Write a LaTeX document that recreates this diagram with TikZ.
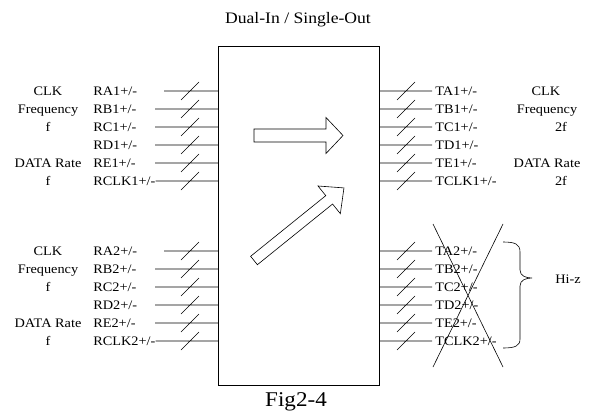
\documentclass[tikz,border=0pt]{standalone}
\usepackage{fontspec}
\setmainfont[FakeStretch=1.1]{Liberation Serif}

\begin{document}
\begin{tikzpicture}[x=1pt, y=-1pt, line width=0.6pt,
	pin/.style={font=\fontsize{13}{15}\selectfont, inner sep=0pt, text height=9pt, text depth=0.5pt},
	pinl/.style={pin, anchor=west},
	pinr/.style={pin, anchor=west, inner xsep=3pt},
	note/.style={pin}]
	\useasboundingbox (0,0) rectangle (596,415);
	\node[draw, anchor=north west, minimum width=161pt, minimum height=339pt, inner sep=0pt] (chip) at (218,46) {};
	\node[font=\fontsize{16}{18}\selectfont] (title) at (298,20) {Dual-In / Single-Out};
	\node[font=\fontsize{21}{23}\selectfont] (fig) at (296,402) {Fig2-4};
	% inputs, first port
	\node[pinl] (ra1) at (93,91) {RA1+/-};
	\node[pinl] (rb1) at (93,109) {RB1+/-};
	\node[pinl] (rc1) at (93,127) {RC1+/-};
	\node[pinl] (rd1) at (93,145) {RD1+/-};
	\node[pinl] (re1) at (93,163) {RE1+/-};
	\node[pinl] (rclk1) at (93,181) {RCLK1+/-};
	\draw (164,91) coordinate (ra1s) -- (chip.west |- ra1s) (181,100) -- (199,82);
	\draw (155,109) coordinate (rb1s) -- (chip.west |- rb1s) (181,118) -- (199,100);
	\draw (155,127) coordinate (rc1s) -- (chip.west |- rc1s) (181,136) -- (199,118);
	\draw (155,145) coordinate (rd1s) -- (chip.west |- rd1s) (181,154) -- (199,136);
	\draw (155,163) coordinate (re1s) -- (chip.west |- re1s) (181,172) -- (199,154);
	\draw (rclk1.east) -- (chip.west |- rclk1.east) (181,190) -- (199,172);
	\node[note] (clkl1) at (48,91) {CLK};
	\node[note] (frql1) at (48,109) {Frequency};
	\node[note] (fl1) at (48,127) {f};
	\node[note] (ratel1) at (48,163) {DATA Rate};
	\node[note] (rfl1) at (48,181) {f};
	% inputs, second port
	\node[pinl] (ra2) at (93,251) {RA2+/-};
	\node[pinl] (rb2) at (93,269) {RB2+/-};
	\node[pinl] (rc2) at (93,287) {RC2+/-};
	\node[pinl] (rd2) at (93,305) {RD2+/-};
	\node[pinl] (re2) at (93,323) {RE2+/-};
	\node[pinl] (rclk2) at (93,341) {RCLK2+/-};
	\draw (164,251) coordinate (ra2s) -- (chip.west |- ra2s) (181,260) -- (199,242);
	\draw (155,269) coordinate (rb2s) -- (chip.west |- rb2s) (181,278) -- (199,260);
	\draw (155,287) coordinate (rc2s) -- (chip.west |- rc2s) (181,296) -- (199,278);
	\draw (155,305) coordinate (rd2s) -- (chip.west |- rd2s) (181,314) -- (199,296);
	\draw (155,323) coordinate (re2s) -- (chip.west |- re2s) (181,332) -- (199,314);
	\draw (rclk2.east) -- (chip.west |- rclk2.east) (181,350) -- (199,332);
	\node[note] (clkl2) at (48,251) {CLK};
	\node[note] (frql2) at (48,269) {Frequency};
	\node[note] (fl2) at (48,287) {f};
	\node[note] (ratel2) at (48,323) {DATA Rate};
	\node[note] (rfl2) at (48,341) {f};
	% outputs, first port
	\node[pinr] (ta1) at (432,91) {TA1+/-};
	\node[pinr] (tb1) at (432,109) {TB1+/-};
	\node[pinr] (tc1) at (432,127) {TC1+/-};
	\node[pinr] (td1) at (432,145) {TD1+/-};
	\node[pinr] (te1) at (432,163) {TE1+/-};
	\node[pinr] (tclk1) at (432,181) {TCLK1+/-};
	\draw (chip.east |- ta1.west) -- (ta1.west) (397,100) -- (415,82);
	\draw (chip.east |- tb1.west) -- (tb1.west) (397,118) -- (415,100);
	\draw (chip.east |- tc1.west) -- (tc1.west) (397,136) -- (415,118);
	\draw (chip.east |- td1.west) -- (td1.west) (397,154) -- (415,136);
	\draw (chip.east |- te1.west) -- (te1.west) (397,172) -- (415,154);
	\draw (chip.east |- tclk1.west) -- (tclk1.west) (397,190) -- (415,172);
	\node[note] (clkr1) at (546,91) {CLK};
	\node[note] (frqr1) at (547,109) {Frequency};
	\node[note] (fr1) at (561,127) {2f};
	\node[note] (rater1) at (547,163) {DATA Rate};
	\node[note] (rfr1) at (561,181) {2f};
	% outputs, second port (hi-z)
	\node[pinr] (ta2) at (432,251) {TA2+/-};
	\node[pinr] (tb2) at (432,269) {TB2+/-};
	\node[pinr] (tc2) at (432,287) {TC2+/-};
	\node[pinr] (td2) at (432,305) {TD2+/-};
	\node[pinr] (te2) at (432,323) {TE2+/-};
	\node[pinr] (tclk2) at (432,341) {TCLK2+/-};
	\draw (chip.east |- ta2.west) -- (ta2.west) (397,260) -- (415,242);
	\draw (chip.east |- tb2.west) -- (tb2.west) (397,278) -- (415,260);
	\draw (chip.east |- tc2.west) -- (tc2.west) (397,296) -- (415,278);
	\draw (chip.east |- td2.west) -- (td2.west) (397,314) -- (415,296);
	\draw (chip.east |- te2.west) -- (te2.west) (397,332) -- (415,314);
	\draw (chip.east |- tclk2.west) -- (tclk2.west) (397,350) -- (415,332);
	\draw (433,224) -- (503,367);
	\draw (503,224) -- (433,367);
	\draw (503,242) .. controls (515,242) and (520,244) .. (520,252) -- (520,270)
		.. controls (520,276) and (526,278) .. (532,278)
		.. controls (526,278) and (520,280) .. (520,286) -- (520,339)
		.. controls (520,346) and (515,348) .. (503,348);
	\node[note] (hiz) at (568,279) {Hi-z};
	% hollow arrows
	\draw[shift={(254,135.5)}] (0,-6.5) -- (72,-6.5) -- (72,-18) -- (89,0) -- (72,18) -- (72,6.5) -- (0,6.5) -- cycle;
	\draw[shift={(254,260.5)}, rotate=38.9] (0,-5.4) -- (96.6,-5.4) -- (96.6,-17.8) -- (115.6,0) -- (96.6,17.8) -- (96.6,5.4) -- (0,5.4) -- cycle;
\end{tikzpicture}
\end{document}
